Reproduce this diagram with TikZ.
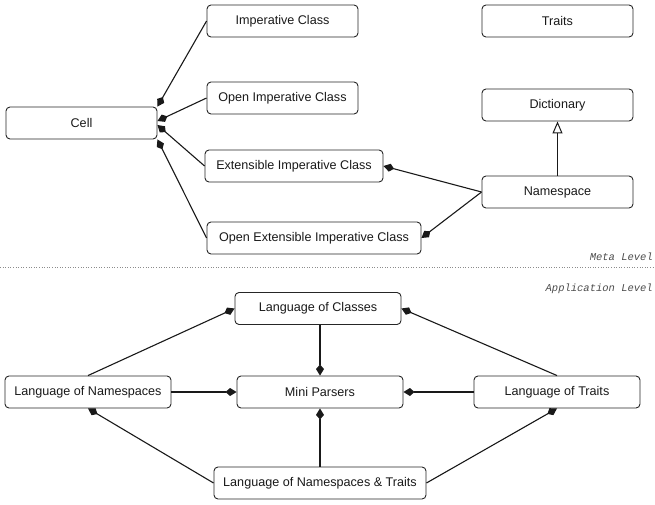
\documentclass[tikz,border=0pt]{standalone}
\usepackage{fontspec}
\setmainfont{Liberation Sans}
\newfontfamily\levelfont{Liberation Mono}
\usetikzlibrary{arrows.meta}

\begin{document}
\begin{tikzpicture}[x=1pt,y=-1pt,
  box/.style={draw=black!85, line width=0.9pt, rounded corners=4pt,
    minimum height=32pt, inner sep=0pt,
    font=\fontsize{12.6}{14}\selectfont, text=black!90},
  link/.style={line width=1.1pt, draw=black!90,
    -{Kite[length=11pt,width=8pt,inset=4.5pt]}},
  inherit/.style={line width=1pt, draw=black!90,
    -{Triangle[open,length=12pt,width=10pt]}},
  level/.style={font=\levelfont\itshape\fontsize{10.5}{12}\selectfont,
    text=black!70, anchor=east, inner sep=0pt}
]
\useasboundingbox (0,0) rectangle (655,505);

% ---- meta level ----
\node[box, minimum width=151pt] (imp)    at (282.5,21)  {Imperative Class};
\node[box, minimum width=151pt] (traits) at (557.5,21)  {Traits};
\node[box, minimum width=151pt] (cell)   at (81.5,123)  {Cell};
\node[box, minimum width=151pt] (oimp)   at (282.5,98)  {Open Imperative Class};
\node[box, minimum width=151pt] (dict)   at (557.5,105) {Dictionary};
\node[box, minimum width=178pt] (ext)    at (294,166)   {Extensible Imperative Class};
\node[box, minimum width=151pt] (ns)     at (557.5,192) {Namespace};
\node[box, minimum width=214pt] (oext)   at (314,238)   {Open Extensible Imperative Class};

\draw[link] (imp.west)  -- (cell.north east);
\draw[link] (oimp.west) -- ([yshift=2pt]cell.east);
\draw[link] (ext.west)  -- ([yshift=-2pt]cell.east);
\draw[link] (oext.west) -- (cell.south east);
\draw[link] (ns.west)   -- (ext.east);
\draw[link] (ns.west)   -- (oext.east);
\draw[inherit] (ns.north) -- (dict.south);

% ---- level separator ----
\coordinate (sepL) at (0,267);
\coordinate (sepR) at (655,267);
\draw[dotted, line width=0.6pt, black!45] (sepL) -- (sepR);
\node[level] (meta) at (653,257) {Meta Level};
\node[level] (app)  at (653,289) {Application Level};

% ---- application level ----
\node[box, minimum width=166pt] (lc)  at (318,308.5) {Language of Classes};
\node[box, minimum width=166pt] (ln)  at (88,392)    {Language of Namespaces};
\node[box, minimum width=166pt] (mp)  at (320,392)   {Mini Parsers};
\node[box, minimum width=166pt] (lt)  at (557,392)   {Language of Traits};
\node[box, minimum width=212pt] (lnt) at (320,483)   {Language of Namespaces \& Traits};

\draw[link] (mp.north |- lc.south) -- (mp.north);
\draw[link] (ln.east)   -- (mp.west);
\draw[link] (lt.west)   -- (mp.east);
\draw[link] (lnt.north) -- (mp.south);
\draw[link] (lnt.west)  -- (ln.south);
\draw[link] (lnt.east)  -- (lt.south);
\draw[link] (ln.north)  -- (lc.west);
\draw[link] (lt.north)  -- (lc.east);
\end{tikzpicture}
\end{document}
